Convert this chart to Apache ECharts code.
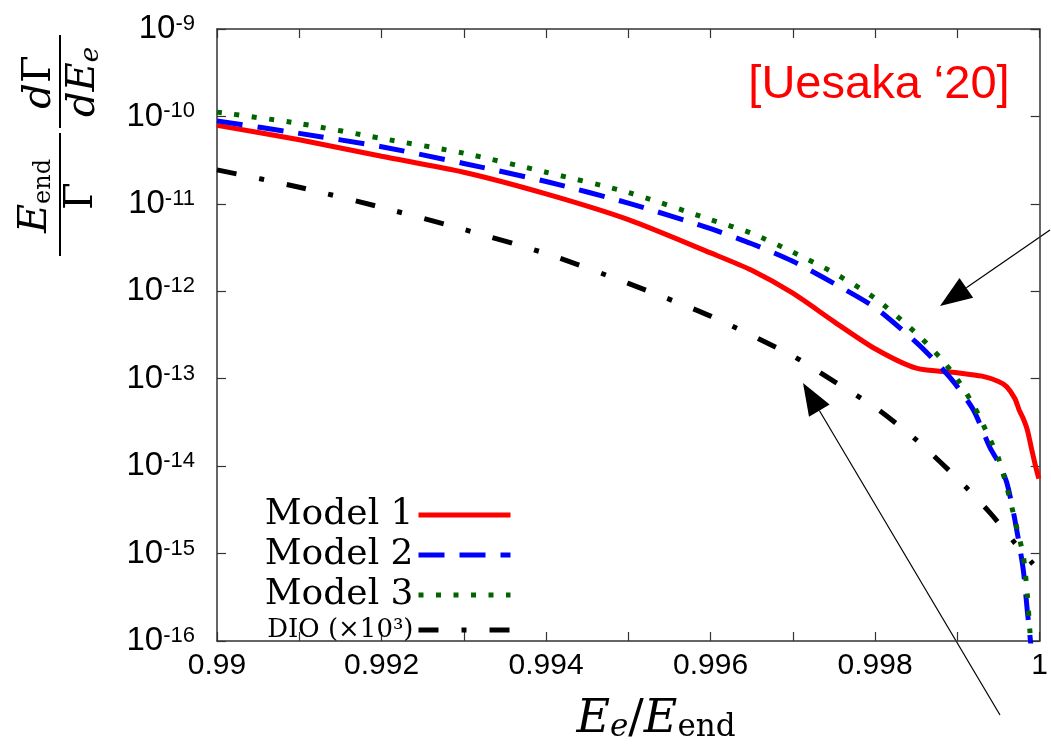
<!DOCTYPE html>
<html>
<head>
<meta charset="utf-8">
<script src="https://cdn.jsdelivr.net/npm/echarts@6/dist/echarts.min.js"></script>
<style>
  html, body { margin: 0; padding: 0; background: #fff; }
  #chart { width: 1051px; height: 752px; }
</style>
</head>
<body>
<div id="chart"></div>
<script>
// values (x = Ee/Eend, y = normalized spectrum)
const model1X = [0.990, 0.991, 0.992, 0.993, 0.994, 0.995, 0.996, 0.9965, 0.997, 0.9975, 0.998, 0.9985, 0.999, 0.9993, 0.9995, 0.9996, 0.9997, 0.99975, 0.9998, 0.99985, 0.9999, 0.99995, 0.99999]
const model1Y = [7.9e-11, 5.4e-11, 3.5e-11, 2.3e-11, 1.3e-11, 6.6e-12, 2.75e-12, 1.74e-12, 9.5e-13, 4.5e-13, 2.2e-13, 1.32e-13, 1.17e-13, 1.07e-13, 9.3e-14, 8.1e-14, 5.9e-14, 4.4e-14, 3.5e-14, 2.6e-14, 1.6e-14, 1.0e-14, 7.2e-15]

const model2X = [0.990, 0.991, 0.992, 0.993, 0.994, 0.995, 0.996, 0.9965, 0.997, 0.9975, 0.998, 0.9985, 0.9988, 0.999, 0.9992, 0.9994, 0.9995, 0.9996, 0.9997, 0.9998, 0.99985, 0.99988, 0.99992]
const model2Y = [8.9e-11, 6.4e-11, 4.5e-11, 2.9e-11, 1.8e-11, 1.02e-11, 5.2e-12, 3.5e-12, 2.2e-12, 1.23e-12, 6.5e-13, 2.6e-13, 1.35e-13, 8.1e-14, 4.3e-14, 1.6e-14, 1.1e-14, 6.5e-15, 2.4e-15, 6.6e-16, 2.2e-16, 1.2e-16, 5e-17]

const model3X = [0.990, 0.991, 0.992, 0.993, 0.994, 0.995, 0.996, 0.9965, 0.997, 0.9975, 0.998, 0.9985, 0.9988, 0.999, 0.9992, 0.9994, 0.9995, 0.9996, 0.9997, 0.9998, 0.99985, 0.99988, 0.99992]
const model3Y = [1.12e-10, 8.3e-11, 5.6e-11, 3.8e-11, 2.3e-11, 1.35e-11, 6.6e-12, 4.6e-12, 2.8e-12, 1.62e-12, 8.3e-13, 3.3e-13, 1.7e-13, 9.8e-14, 4.9e-14, 2.0e-14, 1.23e-14, 5.8e-15, 2.4e-15, 9.5e-16, 3.4e-16, 1.35e-16, 5e-17]

const dioX = [0.990, 0.991, 0.992, 0.993, 0.994, 0.995, 0.996, 0.997, 0.9975, 0.998, 0.9985, 0.999, 0.9994, 0.9997, 0.99992]
const dioY = [2.45e-11, 1.55e-11, 9.1e-12, 5.1e-12, 2.7e-12, 1.23e-12, 5.2e-13, 1.82e-13, 9.3e-14, 4.7e-14, 2.0e-14, 7.2e-15, 2.9e-15, 1.32e-15, 7.6e-16]

const seriesNames = ['Model 1', 'Model 2', 'Model 3', 'DIO']

const pairs = (xs, ys) => xs.map((x, i) => [x, ys[i]])

const serif = 'DejaVu Serif'
const sans = 'Liberation Sans'

// arrow helper: thin shaft + filled head
const arrow = (tail, tip) => {
  const dx = tail[0] - tip[0], dy = tail[1] - tip[1]
  const len = Math.sqrt(dx * dx + dy * dy)
  const ux = dx / len, uy = dy / len
  const bx = tip[0] + ux * 32, by = tip[1] + uy * 32
  return [
    { type: 'line', shape: { x1: tail[0], y1: tail[1], x2: bx, y2: by }, style: { stroke: '#000', lineWidth: 1.2 } },
    { type: 'polygon', shape: { points: [tip, [bx - uy * 12, by + ux * 12], [bx + uy * 12, by - ux * 12]] }, style: { fill: '#000' } }
  ]
}

const chart = echarts.init(document.getElementById('chart'))

const axisLine = { show: true, lineStyle: { color: '#333', width: 1.5 } }
const tickStyle = { show: true, inside: true, length: 9, lineStyle: { color: '#333', width: 1.2 } }

const option = {
  animation: false,
  backgroundColor: '#fff',
  grid: { left: 217, right: 1, top: 29, bottom: 111 },
  legend: {
    data: seriesNames,
    orient: 'vertical',
    align: 'right',
    right: 538,
    top: 497,
    padding: 0,
    itemWidth: 92,
    itemHeight: 14,
    itemGap: 4,
    itemStyle: { color: 'rgba(0,0,0,0)', borderWidth: 0 },
    lineStyle: { width: 5 },
    formatter: name => name === 'DIO' ? '{s|DIO (×10³)}' : '{m|' + name + '}',
    textStyle: {
      color: '#000',
      rich: {
        m: { fontFamily: serif, fontSize: 36, lineHeight: 30, color: '#000' },
        s: { fontFamily: serif, fontSize: 26, lineHeight: 30, color: '#000' }
      }
    }
  },
  xAxis: [
    {
      type: 'value', min: 0.99, max: 1.0, interval: 0.002,
      axisLine, axisTick: tickStyle,
      minorTick: { show: true, splitNumber: 2, length: 9, lineStyle: { color: '#333', width: 1.2 } },
      splitLine: { show: false },
      axisLabel: { color: '#000', fontFamily: sans, fontSize: 30, margin: 10 }
    },
    {
      type: 'value', position: 'top', min: 0.99, max: 1.0, interval: 0.002,
      axisLine, axisTick: tickStyle,
      minorTick: { show: true, splitNumber: 2, length: 9, lineStyle: { color: '#333', width: 1.2 } },
      splitLine: { show: false },
      axisLabel: { show: false }
    }
  ],
  yAxis: [
    {
      type: 'log', logBase: 10, min: 1e-16, max: 1e-9, interval: 1,
      axisLine, axisTick: tickStyle,
      splitLine: { show: false },
      axisLabel: {
        margin: 22,
        formatter: v => '{b|10}{s|' + Math.round(Math.log10(v)) + '}',
        rich: {
          b: { fontFamily: sans, fontSize: 33, lineHeight: 32, color: '#000' },
          s: { fontFamily: sans, fontSize: 22, lineHeight: 8, verticalAlign: 'top', color: '#000' }
        }
      }
    },
    {
      type: 'log', logBase: 10, position: 'right', min: 1e-16, max: 1e-9, interval: 1,
      axisLine, axisTick: tickStyle,
      splitLine: { show: false },
      axisLabel: { show: false }
    }
  ],
  series: [
    {
      name: 'Model 1', type: 'line', data: pairs(model1X, model1Y),
      symbol: 'none', smooth: 0.25, clip: true,
      lineStyle: { color: '#ff0000', width: 5 }, itemStyle: { color: '#ff0000' }
    },
    {
      name: 'Model 2', type: 'line', data: pairs(model2X, model2Y),
      symbol: 'none', smooth: 0.25, clip: true,
      lineStyle: { color: '#0000ff', width: 5, type: [26, 15] }, itemStyle: { color: '#0000ff' }
    },
    {
      name: 'Model 3', type: 'line', data: pairs(model3X, model3Y),
      symbol: 'none', smooth: 0.25, clip: true,
      lineStyle: { color: '#006400', width: 5, type: [5, 12.5] }, itemStyle: { color: '#006400' }
    },
    {
      name: 'DIO', type: 'line', data: pairs(dioX, dioY),
      symbol: 'none', smooth: 0.25, clip: true,
      lineStyle: { color: '#000', width: 5, type: [20, 23, 5, 23] }, itemStyle: { color: '#000' }
    }
  ],
  graphic: [
    {
      type: 'group', x: 60, y: 258, rotation: Math.PI / 2,
      children: [
        { type: 'line', shape: { x1: 2, y1: 0, x2: 125, y2: 0 }, style: { stroke: '#000', lineWidth: 2 } },
        {
          type: 'text', x: 62, y: -24,
          style: {
            text: '{i|E}{sub|end}', align: 'center', verticalAlign: 'middle',
            rich: {
              i: { fontFamily: serif, fontStyle: 'italic', fontSize: 40, lineHeight: 40, fill: '#000' },
              sub: { fontFamily: serif, fontSize: 24, lineHeight: 16, verticalAlign: 'bottom', fill: '#000' }
            }
          }
        },
        { type: 'text', x: 62, y: 22, style: { text: 'Γ', font: '40px "DejaVu Serif"', fill: '#000', align: 'center', verticalAlign: 'middle' } },
        { type: 'line', shape: { x1: 130, y1: 0, x2: 223, y2: 0 }, style: { stroke: '#000', lineWidth: 2 } },
        {
          type: 'text', x: 176, y: -20,
          style: {
            text: '{i|d}{r|Γ}', align: 'center', verticalAlign: 'middle',
            rich: {
              i: { fontFamily: serif, fontStyle: 'italic', fontSize: 40, fill: '#000' },
              r: { fontFamily: serif, fontSize: 40, fill: '#000' }
            }
          }
        },
        {
          type: 'text', x: 176, y: 24,
          style: {
            text: '{i|dE}{sub|e}', align: 'center', verticalAlign: 'middle',
            rich: {
              i: { fontFamily: serif, fontStyle: 'italic', fontSize: 40, lineHeight: 40, fill: '#000' },
              sub: { fontFamily: serif, fontStyle: 'italic', fontSize: 26, lineHeight: 16, verticalAlign: 'bottom', fill: '#000' }
            }
          }
        }
      ]
    },
    {
      type: 'text', x: 656, y: 720,
      style: {
        text: '{i|E}{subi|e}{r|/}{i|E}{sub|end}', align: 'center', verticalAlign: 'middle',
        rich: {
          i: { fontFamily: serif, fontStyle: 'italic', fontSize: 46, lineHeight: 46, fill: '#000' },
          r: { fontFamily: serif, fontSize: 46, lineHeight: 46, fill: '#000' },
          subi: { fontFamily: serif, fontStyle: 'italic', fontSize: 31, lineHeight: 18, verticalAlign: 'bottom', fill: '#000' },
          sub: { fontFamily: serif, fontSize: 31, lineHeight: 18, verticalAlign: 'bottom', fill: '#000' }
        }
      }
    },
    {
      type: 'text', x: 879, y: 85,
      style: { text: '[Uesaka ‘20]', font: '47px "Liberation Sans"', fill: '#ff0000', align: 'center', verticalAlign: 'middle' }
    },
    ...arrow([1050, 230], [940, 306]),
    ...arrow([1000, 715], [803, 383])
  ]
}

chart.setOption(option)
</script>
</body>
</html>
